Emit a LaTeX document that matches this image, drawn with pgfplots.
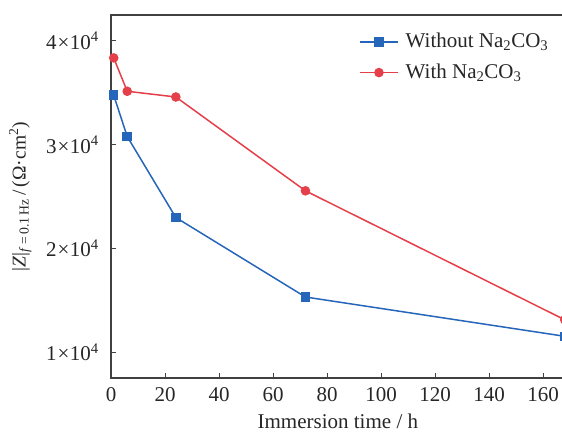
\documentclass[border=0pt]{standalone}
\usepackage{fontspec}
\setmainfont{Liberation Serif}
\usepackage{pgfplots}
\pgfplotsset{compat=1.18}
\definecolor{cblue}{RGB}{38,102,186}
\definecolor{cred}{RGB}{229,64,74}
\definecolor{axgray}{RGB}{64,64,64}
\definecolor{txt}{RGB}{38,38,38}
\begin{document}
\fontsize{21}{24}\selectfont
\begin{tikzpicture}
\begin{axis}[name=ax, scale only axis, width=453.6pt, height=363pt,
  xmin=0, xmax=168, ymin=7530, ymax=42470,
  scaled y ticks=false, scaled x ticks=false,
  xtick={0,20,...,160}, ytick={10000,20000,30000,40000},
  yticklabels={1\kern1pt×\kern0.5pt10\textsuperscript{4},2\kern1pt×\kern0.5pt10\textsuperscript{4},3\kern1pt×\kern0.5pt10\textsuperscript{4},4\kern1pt×\kern0.5pt10\textsuperscript{4}},
  /pgf/number format/assume math mode=true,
  xtick pos=bottom, ytick pos=left, tick align=inside, major tick length=5pt,
  axis line style={axgray, line width=1.2pt}, tick style={axgray, line width=1pt},
  every tick label/.append style={font=\fontsize{21}{24}\selectfont, text=txt},
  xticklabel style={yshift=-2pt},
  yticklabel style={xshift=-5pt},
  label style={font=\fontsize{21}{24}\selectfont, text=txt},
  xlabel={Immersion time / h},
  xlabel style={at={(axis description cs:0.5,-0.118)}, anchor=center},
  ylabel={|\textit{Z}|\textsubscript{\textit{f}\,=\,0.1\,Hz}\,/\,(Ω·cm\textsuperscript{2})},
  ylabel style={at={(axis description cs:-0.2,0.5)}, anchor=center, rotate=0, font=\fontsize{19.5}{22}\selectfont},
  legend cell align=left,
  legend style={draw=none, fill=none, at={(axis description cs:0.54,0.962)}, anchor=north west,
    font=\fontsize{21}{24}\selectfont, text=txt, row sep=9pt,
    /tikz/every odd column/.append style={column sep=5pt}},
  legend image code/.code={\draw[mark repeat=2,mark phase=2,#1] plot coordinates {(0pt,0pt)(19pt,0pt)(38pt,0pt)};},
]
\addplot[cblue, line width=1.5pt, mark=square*, mark size=4pt, mark options={solid}]
  coordinates {(1,34750) (6,30770) (24,22980) (72,15330) (168,11550)};
\addlegendentry{Without Na\textsubscript{2}CO\textsubscript{3}}
\addplot[cred, line width=1.5pt, mark=*, mark size=4pt, mark options={solid}]
  coordinates {(1,38340) (6,35130) (24,34580) (72,25550) (168,13140)};
\addlegendentry{With Na\textsubscript{2}CO\textsubscript{3}}
\coordinate (R) at (axis cs:167,42470);
\end{axis}
\pgfresetboundingbox
\useasboundingbox ([xshift=-111pt,yshift=-55pt]ax.south west) rectangle ([yshift=15pt]R);
\end{tikzpicture}
\end{document}
